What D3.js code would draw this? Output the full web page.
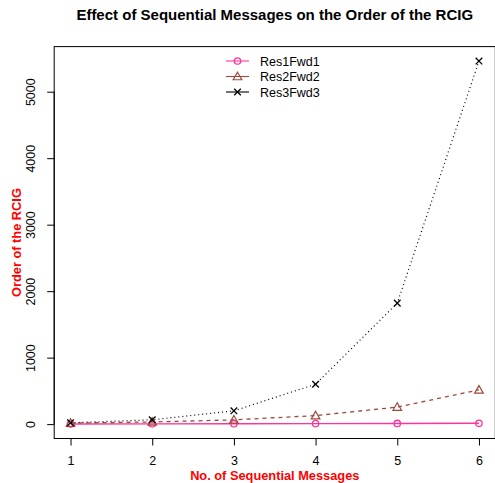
<!DOCTYPE html>
<html>
<head>
<meta charset="utf-8">
<script src="https://cdn.jsdelivr.net/npm/d3@7"></script>
<style>
  body { margin: 0; background: #fff; }
  text { font-family: "Liberation Sans", Arial, sans-serif; }
</style>
</head>
<body>
<script>
// values
let messages = [1, 2, 3, 4, 5, 6]
let res1Fwd1 = [2, 4, 6, 8, 10, 12]
let res2Fwd2 = [16, 32, 64, 128, 256, 515]
let res3Fwd3 = [20, 65, 200, 600, 1820, 5460]
let yTicks = [0, 1000, 2000, 3000, 4000, 5000]
let seriesNames = ["Res1Fwd1", "Res2Fwd2", "Res3Fwd3"]

const width = 495, height = 483
const plotLeft = 54.2, plotRight = 495.3, plotTop = 46.6, plotBottom = 438.5

let svg = d3.select("body").append("svg")
  .attr("width", width)
  .attr("height", height)

// R style 4% padding on both axes
let xPad = (d3.max(messages) - d3.min(messages)) * 0.04
let x = d3.scaleLinear()
  .domain([d3.min(messages) - xPad, d3.max(messages) + xPad])
  .range([plotLeft, plotRight])

let allY = res1Fwd1.concat(res2Fwd2, res3Fwd3)
let yPad = (d3.max(allY) - d3.min(allY)) * 0.04
let y = d3.scaleLinear()
  .domain([d3.min(allY) - yPad, d3.max(allY) + yPad])
  .range([plotBottom, plotTop])

let series = [
  {name: seriesNames[0], values: res1Fwd1, color: "#ff3399", dash: null, mark: "circle", lw: 1.4},
  {name: seriesNames[1], values: res2Fwd2, color: "#9c4a3c", dash: "4,4", mark: "triangle", lw: 1.3},
  {name: seriesNames[2], values: res3Fwd3, color: "#000000", dash: "1,3", mark: "cross", lw: 1.2}
]

function drawMark(g, type, cx, cy, color) {
  if (type == "circle") {
    g.append("circle").attr("cx", cx).attr("cy", cy).attr("r", 3.2)
      .attr("fill", "none").attr("stroke", color).attr("stroke-width", 1.3)
  } else if (type == "triangle") {
    let s = 4.3
    g.append("path")
      .attr("d", `M${cx},${cy - s}L${cx + s},${cy + s * 0.75}L${cx - s},${cy + s * 0.75}Z`)
      .attr("fill", "none").attr("stroke", color).attr("stroke-width", 1.2)
  } else {
    let s = 3.3
    g.append("path")
      .attr("d", `M${cx - s},${cy - s}L${cx + s},${cy + s}M${cx + s},${cy - s}L${cx - s},${cy + s}`)
      .attr("fill", "none").attr("stroke", color).attr("stroke-width", 1.3)
  }
}

let line = d3.line()
  .x((d, i) => x(messages[i]))
  .y(d => y(d))

let plot = svg.append("g")
series.forEach(s => {
  plot.append("path")
    .datum(s.values)
    .attr("d", line)
    .attr("fill", "none")
    .attr("stroke", s.color)
    .attr("stroke-width", s.lw)
    .attr("stroke-dasharray", s.dash)
  s.values.forEach((v, i) => drawMark(plot, s.mark, x(messages[i]), y(v), s.color))
})

// box
svg.append("rect")
  .attr("x", plotLeft).attr("y", plotTop)
  .attr("width", plotRight - plotLeft).attr("height", plotBottom - plotTop)
  .attr("fill", "none").attr("stroke", "#000").attr("stroke-width", 1)

// X AXIS
let xAxis = d3.axisBottom(x).tickValues(messages).tickSize(7).tickFormat(d3.format("d"))
let gx = svg.append("g")
  .attr("transform", `translate(0,${plotBottom})`)
  .call(xAxis)
gx.select(".domain").attr("d", `M${x(messages[0])},0H${x(messages[messages.length - 1])}`)
gx.selectAll("text").attr("font-size", 12.5).attr("font-family", "Liberation Sans")
  .attr("fill", "#000").attr("dy", null).attr("y", 26.3)

// Y AXIS
let yAxis = d3.axisLeft(y).tickValues(yTicks).tickSize(7).tickFormat(d3.format("d"))
let gy = svg.append("g")
  .attr("transform", `translate(${plotLeft},0)`)
  .call(yAxis)
gy.select(".domain").attr("d", `M0,${y(yTicks[0])}V${y(yTicks[yTicks.length - 1])}`)
gy.selectAll(".tick text")
  .attr("font-size", 12.5).attr("font-family", "Liberation Sans").attr("fill", "#000")
  .attr("x", null).attr("dy", null).attr("y", 0)
  .attr("transform", "translate(-19,0) rotate(-90)")
  .attr("text-anchor", "middle")

// TITLES
svg.append("text")
  .attr("x", (plotLeft + plotRight) / 2).attr("y", 19.5)
  .attr("text-anchor", "middle")
  .attr("font-size", 15).attr("font-weight", "bold")
  .text("Effect of Sequential Messages on the Order of the RCIG")

svg.append("text")
  .attr("x", (plotLeft + plotRight) / 2).attr("y", 479.5)
  .attr("text-anchor", "middle")
  .attr("font-size", 12.8).attr("font-weight", "bold").attr("fill", "#ff0000")
  .text("No. of Sequential Messages")

svg.append("text")
  .attr("transform", `translate(21,${(plotTop + plotBottom) / 2}) rotate(-90)`)
  .attr("text-anchor", "middle")
  .attr("font-size", 12.8).attr("font-weight", "bold").attr("fill", "#ff0000")
  .text("Order of the RCIG")

// LEGEND
let legend = svg.append("g").attr("id", "legend")
series.forEach((s, i) => {
  let ly = 61 + i * 15.5
  legend.append("line")
    .attr("x1", 226).attr("x2", 249).attr("y1", ly).attr("y2", ly)
    .attr("stroke", s.color).attr("stroke-width", 1.1)
  drawMark(legend, s.mark, 237.5, ly, s.color)
  legend.append("text")
    .attr("x", 260).attr("y", ly + 4.5)
    .attr("font-size", 12.5)
    .text(s.name)
})
</script>
</body>
</html>
